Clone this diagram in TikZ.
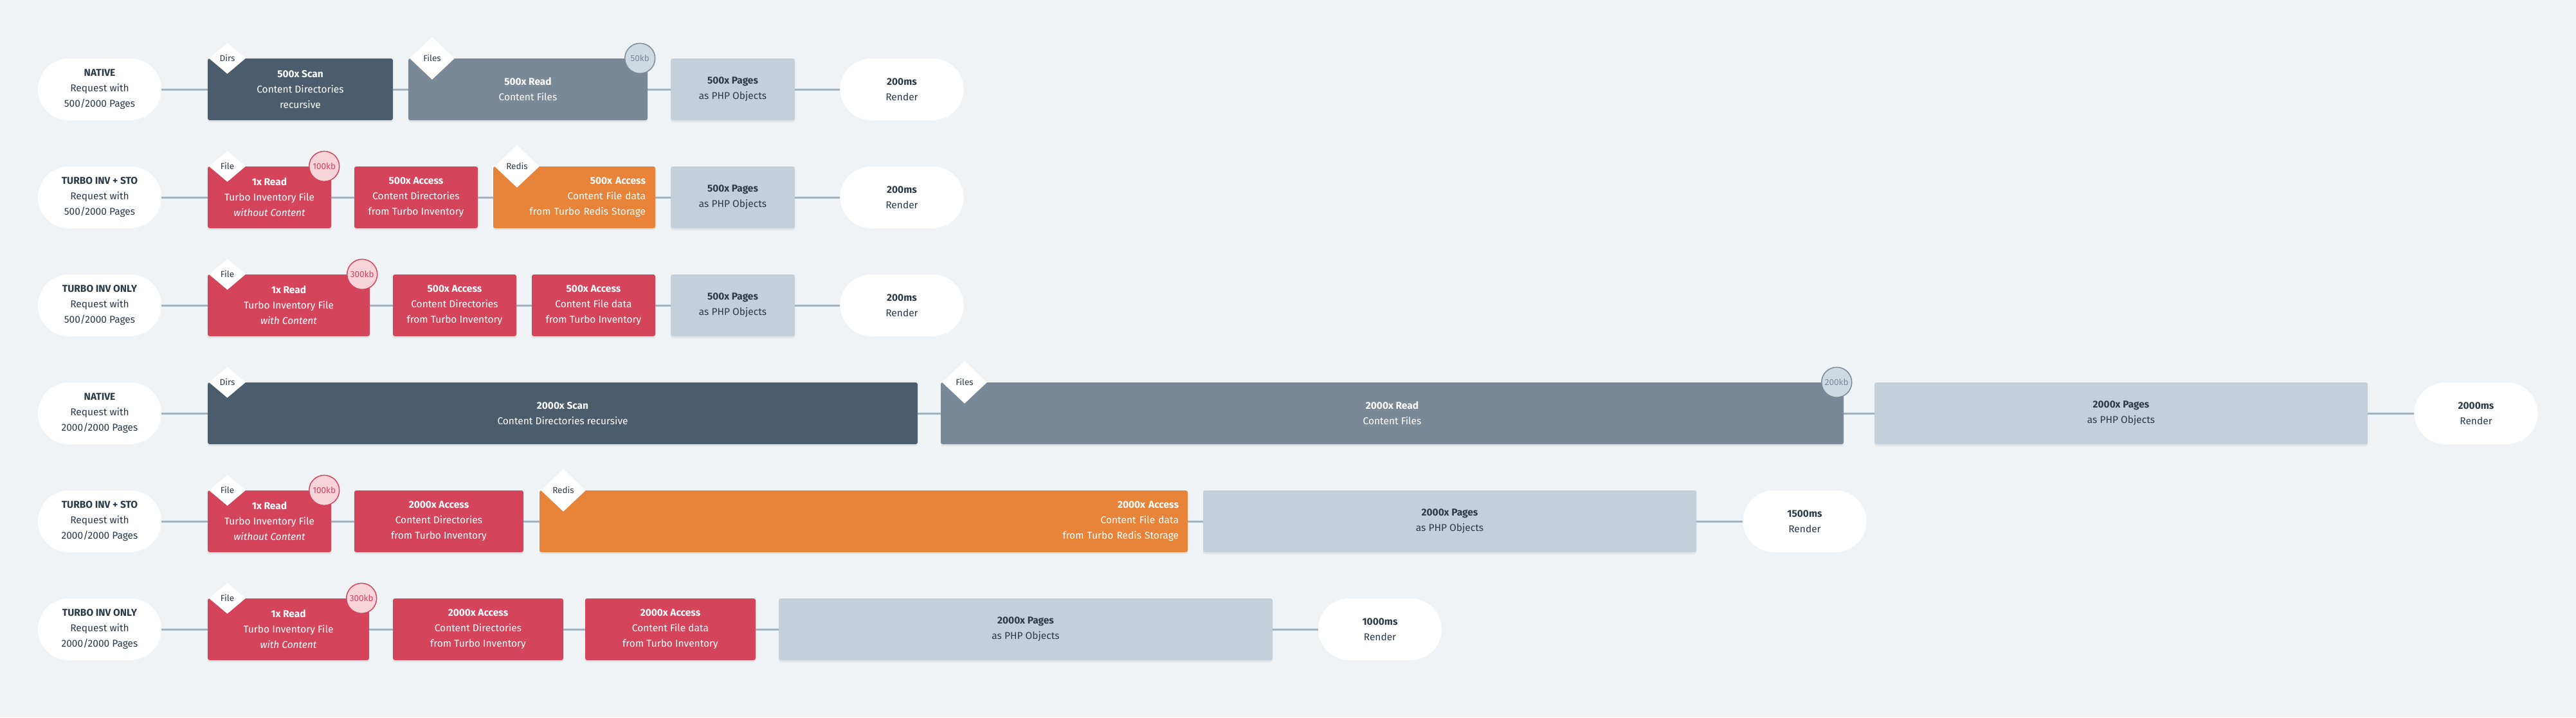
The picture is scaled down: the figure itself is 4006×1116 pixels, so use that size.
\documentclass[tikz,border=0pt]{standalone}
\usepackage{fontspec}
\setmainfont{Fira Sans}
\usepackage{tikz}
\usetikzlibrary{shapes.geometric,shadows}

\definecolor{bgc}{HTML}{EFF3F6}
\definecolor{inkc}{HTML}{2C3A47}
\definecolor{linec}{HTML}{A3B2BF}
\definecolor{scanc}{HTML}{4B5D6C}
\definecolor{readc}{HTML}{798997}
\definecolor{pagec}{HTML}{C3CFD9}
\definecolor{turboc}{HTML}{D4455C}
\definecolor{redisc}{HTML}{E8843A}
\definecolor{kbgray}{HTML}{CFD9E2}
\definecolor{kbgrayline}{HTML}{7B8A98}
\definecolor{kbred}{HTML}{F7D4DA}

\newcommand\boxfont{\fontsize{15.5}{24}\selectfont}
\newcommand\tagfont{\fontsize{13.5}{16}\selectfont}

\tikzset{
  stage/.style={rounded corners=3pt, minimum height=96pt, inner sep=0pt,
    align=center, font=\boxfont, text=white,
    drop shadow={opacity=0.12, shadow xshift=0pt, shadow yshift=-3pt}},
  scanbox/.style={stage, fill=scanc},
  readbox/.style={stage, fill=readc},
  pagebox/.style={stage, fill=pagec, text=inkc},
  turbobox/.style={stage, fill=turboc},
  redisbox/.style={stage, fill=redisc, align=right, inner xsep=15pt},
  endpoint/.style={fill=white, rounded corners=48pt, minimum width=192pt,
    minimum height=96pt, inner sep=0pt, align=center, font=\boxfont, text=inkc},
  conn/.style={draw=linec, line width=3pt},
  tag/.style={diamond, fill=white, inner sep=0pt, minimum width=57pt,
    minimum height=48pt, font=\tagfont, text=inkc, anchor=west},
  widetag/.style={tag, minimum width=70pt, minimum height=66pt},
  kbsize/.style={circle, minimum size=47pt, inner sep=0pt, font=\tagfont,
    line width=1.5pt},
  kbgrey/.style={kbsize, fill=kbgray, draw=kbgrayline, text=kbgrayline},
  kbpink/.style={kbsize, fill=kbred, draw=turboc, text=turboc}
}

\begin{document}
\begin{tikzpicture}[x=1pt,y=-1pt]
\fill[bgc] (0,0) rectangle (4006,1116);
\useasboundingbox (0,0) rectangle (4006,1116);

% native 500
\node[endpoint] (req1) at (155,139) {\textbf{NATIVE}\\Request with\\500/2000 Pages};
\node[scanbox, minimum width=288pt] (scan1) at (467,139) {\textbf{500x Scan}\\Content Directories\\recursive};
\node[readbox, minimum width=372pt] (read1) at (821,139) {\textbf{500x Read}\\Content Files};
\node[pagebox, minimum width=193pt] (pages1) at (1139.5,139) {\textbf{500x Pages}\\as PHP Objects};
\node[endpoint] (render1) at (1402.5,139) {\textbf{200ms}\\Render};

% turbo inv + sto 500
\node[endpoint] (req2) at (155,307) {\textbf{TURBO INV + STO}\\Request with\\500/2000 Pages};
\node[turbobox, minimum width=192pt] (inv2) at (419,307) {\textbf{1x Read}\\Turbo Inventory File\\\textit{without Content}};
\node[turbobox, minimum width=192pt] (dirs2) at (647,307) {\textbf{500x Access}\\Content Directories\\from Turbo Inventory};
\node[redisbox, text width=222pt] (redis2) at (893,307) {\textbf{500x Access}\\Content File data\\from Turbo Redis Storage};
\node[pagebox, minimum width=193pt] (pages2) at (1139.5,307) {\textbf{500x Pages}\\as PHP Objects};
\node[endpoint] (render2) at (1402.5,307) {\textbf{200ms}\\Render};

% turbo inv only 500
\node[endpoint] (req3) at (155,475) {\textbf{TURBO INV ONLY}\\Request with\\500/2000 Pages};
\node[turbobox, minimum width=252pt] (inv3) at (449,475) {\textbf{1x Read}\\Turbo Inventory File\\\textit{with Content}};
\node[turbobox, minimum width=192pt] (dirs3) at (707,475) {\textbf{500x Access}\\Content Directories\\from Turbo Inventory};
\node[turbobox, minimum width=192pt] (data3) at (923,475) {\textbf{500x Access}\\Content File data\\from Turbo Inventory};
\node[pagebox, minimum width=193pt] (pages3) at (1139.5,475) {\textbf{500x Pages}\\as PHP Objects};
\node[endpoint] (render3) at (1402.5,475) {\textbf{200ms}\\Render};

% native 2000
\node[endpoint] (req4) at (155,643) {\textbf{NATIVE}\\Request with\\2000/2000 Pages};
\node[scanbox, minimum width=1104pt] (scan4) at (875,643) {\textbf{2000x Scan}\\Content Directories recursive};
\node[readbox, minimum width=1404pt] (read4) at (2165,643) {\textbf{2000x Read}\\Content Files};
\node[pagebox, minimum width=767pt] (pages4) at (3298.5,643) {\textbf{2000x Pages}\\as PHP Objects};
\node[endpoint] (render4) at (3850.5,643) {\textbf{2000ms}\\Render};

% turbo inv + sto 2000
\node[endpoint] (req5) at (155,811) {\textbf{TURBO INV + STO}\\Request with\\2000/2000 Pages};
\node[turbobox, minimum width=192pt] (inv5) at (419,811) {\textbf{1x Read}\\Turbo Inventory File\\\textit{without Content}};
\node[turbobox, minimum width=263pt] (dirs5) at (682.5,811) {\textbf{2000x Access}\\Content Directories\\from Turbo Inventory};
\node[redisbox, inner xsep=14pt, text width=980pt] (redis5) at (1343,811) {\textbf{2000x Access}\\Content File data\\from Turbo Redis Storage};
\node[pagebox, minimum width=767pt] (pages5) at (2254.5,811) {\textbf{2000x Pages}\\as PHP Objects};
\node[endpoint] (render5) at (2806.5,811) {\textbf{1500ms}\\Render};

% turbo inv only 2000
\node[endpoint] (req6) at (155,979) {\textbf{TURBO INV ONLY}\\Request with\\2000/2000 Pages};
\node[turbobox, minimum width=251pt] (inv6) at (448.5,979) {\textbf{1x Read}\\Turbo Inventory File\\\textit{with Content}};
\node[turbobox, minimum width=265pt] (dirs6) at (743.5,979) {\textbf{2000x Access}\\Content Directories\\from Turbo Inventory};
\node[turbobox, minimum width=265pt] (data6) at (1042.5,979) {\textbf{2000x Access}\\Content File data\\from Turbo Inventory};
\node[pagebox, minimum width=768pt] (pages6) at (1595,979) {\textbf{2000x Pages}\\as PHP Objects};
\node[endpoint] (render6) at (2146,979) {\textbf{1000ms}\\Render};

% connectors
\draw[conn] (req1) -- (scan1) (scan1) -- (read1) (read1) -- (pages1) (pages1) -- (render1);
\draw[conn] (req2) -- (inv2) (inv2) -- (dirs2) (dirs2) -- (redis2) (redis2) -- (pages2) (pages2) -- (render2);
\draw[conn] (req3) -- (inv3) (inv3) -- (dirs3) (dirs3) -- (data3) (data3) -- (pages3) (pages3) -- (render3);
\draw[conn] (req4) -- (scan4) (scan4) -- (read4) (read4) -- (pages4) (pages4) -- (render4);
\draw[conn] (req5) -- (inv5) (inv5) -- (dirs5) (dirs5) -- (redis5) (redis5) -- (pages5) (pages5) -- (render5);
\draw[conn] (req6) -- (inv6) (inv6) -- (dirs6) (dirs6) -- (data6) (data6) -- (pages6) (pages6) -- (render6);

% source tags
\node[tag] (tagscan1) at ([xshift=2pt]scan1.north west) {Dirs};
\node[widetag] (tagread1) at ([xshift=2pt]read1.north west) {Files};
\node[tag] (taginv2) at ([xshift=2pt]inv2.north west) {File};
\node[widetag] (tagredis2) at ([xshift=2pt]redis2.north west) {Redis};
\node[tag] (taginv3) at ([xshift=2pt]inv3.north west) {File};
\node[tag] (tagscan4) at ([xshift=2pt]scan4.north west) {Dirs};
\node[widetag] (tagread4) at ([xshift=2pt]read4.north west) {Files};
\node[tag] (taginv5) at ([xshift=2pt]inv5.north west) {File};
\node[widetag] (tagredis5) at ([xshift=2pt]redis5.north west) {Redis};
\node[tag] (taginv6) at ([xshift=2pt]inv6.north west) {File};

% file sizes
\node[kbgrey] (kb1) at ([xshift=-12pt]read1.north east) {50kb};
\node[kbpink] (kb2) at ([xshift=-11pt]inv2.north east) {100kb};
\node[kbpink] (kb3) at ([xshift=-12pt]inv3.north east) {300kb};
\node[kbgrey] (kb4) at ([xshift=-11pt]read4.north east) {200kb};
\node[kbpink] (kb5) at ([xshift=-11pt]inv5.north east) {100kb};
\node[kbpink] (kb6) at ([xshift=-12pt]inv6.north east) {300kb};
\end{tikzpicture}
\end{document}
